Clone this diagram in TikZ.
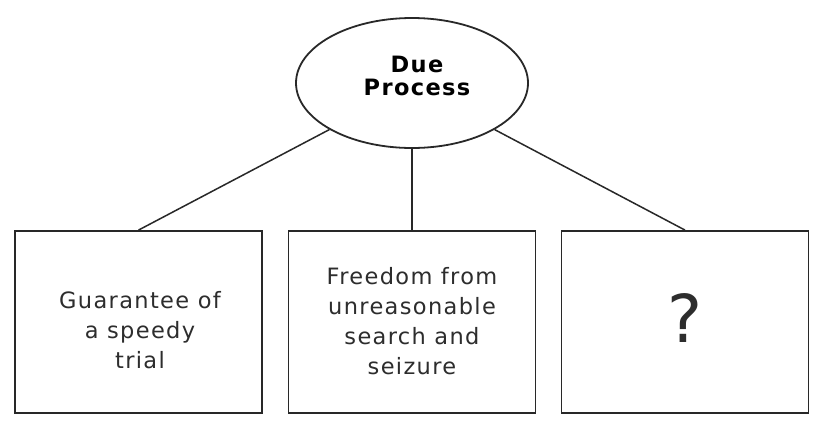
\documentclass[tikz,border=0pt]{standalone}
\usepackage{fontspec}
\setmainfont{DejaVu Sans}[LetterSpace=6]
\usetikzlibrary{shapes.geometric}
\definecolor{linec}{RGB}{40,40,40}
\definecolor{textc}{RGB}{45,45,45}
\tikzset{
  boxnode/.style={draw=linec, line width=1.8pt, minimum width=247pt, minimum height=182pt, inner sep=0pt},
  txt/.style={text=textc, align=center, font=\fontsize{22.5}{30}\selectfont, inner sep=0pt},
  conn/.style={draw=linec, line width=1.5pt},
}
\begin{document}
\begin{tikzpicture}[x=1pt,y=1pt]
\useasboundingbox[fill=white] (0,0) rectangle (826,-429);
\node[draw=linec, line width=1.8pt, ellipse, minimum width=232pt, minimum height=130pt, inner sep=0pt] (due) at (412,-83) {};
\node[text=black, align=center, font=\bfseries\fontsize{22.5}{23}\selectfont, inner sep=0pt] (duet) at (417,-76) {Due\\Process};
\node[boxnode] (b1) at (138.5,-322) {};
\node[boxnode] (b2) at (412,-322) {};
\node[boxnode] (b3) at (685,-322) {};
\node[txt] (t1) at (140,-330) {Guarantee of\\a speedy\\trial};
\node[txt] (t2) at (412,-321) {Freedom from\\unreasonable\\search and\\seizure};
\node[txt, font=\fontsize{66}{70}\selectfont] (t3) at (685,-318) {?};
\draw[conn] (due.south west) -- (b1.north);
\draw[conn] (due.south) -- (b2.north);
\draw[conn] (due.south east) -- (b3.north);
\end{tikzpicture}
\end{document}
